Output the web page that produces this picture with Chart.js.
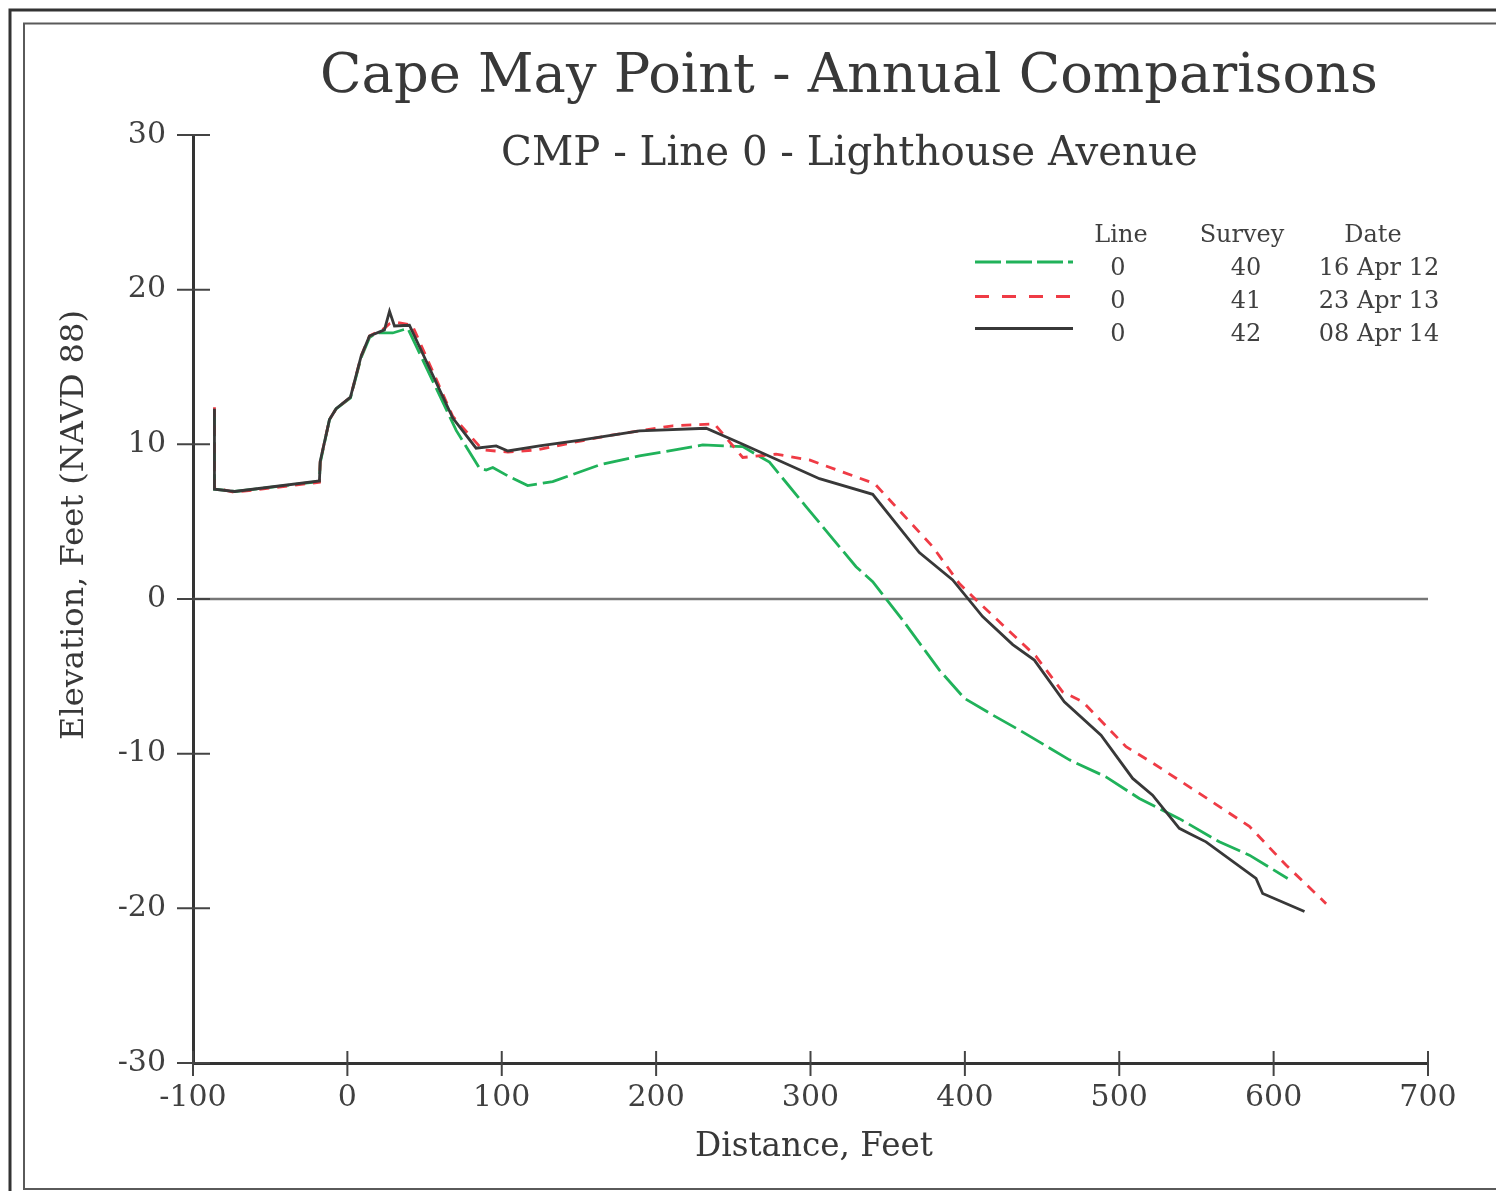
<!DOCTYPE html>
<html>
<head>
<meta charset="utf-8">
<title>Cape May Point - Annual Comparisons</title>
<script src="https://cdn.jsdelivr.net/npm/chart.js@4.4.1/dist/chart.umd.min.js"></script>
<style>
  body { margin: 0; background: #fff; }
  #wrap { width: 1496px; height: 1191px; position: relative; }
</style>
</head>
<body>
<div id="wrap"><canvas id="profileChart"></canvas></div>
<script>
// profile data (distance ft, elevation ft NAVD 88)
const survey40Dist = [-86.1, -86.1, -73, -18.1, -17.6, -11.6, -7.3, 2.0, 8.9, 14.3, 18.6, 29.4, 39.1, 70.5, 85.6, 89.9, 94.2, 105, 116.8, 133, 163.3, 189.2, 230.2, 256.1, 273.4, 297.1, 329.5, 340.3, 359.7, 383.5, 399.7, 418, 435.3, 467.7, 491.4, 513, 538.9, 564.8, 584.3, 609.1];
const survey40Elev = [12.2, 7.1, 6.95, 7.6, 8.8, 11.6, 12.3, 13.0, 15.6, 16.9, 17.2, 17.2, 17.5, 10.9, 8.45, 8.34, 8.5, 7.9, 7.33, 7.59, 8.67, 9.25, 9.96, 9.85, 8.85, 5.97, 2.09, 1.12, -1.36, -4.6, -6.42, -7.5, -8.47, -10.4, -11.5, -12.9, -14.2, -15.7, -16.56, -18.07];

const survey41Dist = [-86.1, -86.1, -73, -18.1, -17.6, -11.6, -7.3, 2.0, 8.9, 14.3, 24.0, 27.3, 31.6, 42, 68.3, 87.7, 104, 122.3, 167.7, 210.8, 237.8, 256.1, 277.7, 299.3, 341.5, 379.2, 396.4, 407.3, 446, 463.3, 476.3, 504.4, 521.6, 551.9, 584.3, 608, 634];
const survey41Elev = [12.4, 7.2, 6.9, 7.55, 8.9, 11.6, 12.3, 13.05, 15.7, 17.0, 17.5, 17.8, 17.9, 17.7, 11.8, 9.64, 9.5, 9.64, 10.54, 11.2, 11.32, 9.15, 9.36, 8.99, 7.46, 3.38, 1.0, -0.06, -3.7, -6.0, -6.64, -9.55, -10.6, -12.57, -14.7, -17.2, -19.7];

const survey42Dist = [-86.1, -86.1, -73, -18.1, -17.6, -11.6, -7.3, 2.0, 8.9, 14.3, 24.0, 27.3, 30.5, 40.2, 68.3, 83.4, 96.4, 104, 124.4, 150, 189.2, 232.4, 256.1, 305.8, 340.3, 370.5, 392.1, 411.5, 431, 445, 464.4, 488.2, 508.7, 521.6, 538.9, 545.4, 556.2, 588.6, 592.9, 620];
const survey42Elev = [12.3, 7.1, 6.95, 7.63, 8.9, 11.6, 12.3, 13.05, 15.7, 17.0, 17.4, 18.6, 17.65, 17.7, 11.7, 9.75, 9.9, 9.57, 9.9, 10.25, 10.87, 11.04, 10.0, 7.78, 6.77, 3.0, 1.23, -1.14, -2.95, -3.95, -6.64, -8.8, -11.6, -12.68, -14.83, -15.16, -15.7, -18.07, -19.04, -20.2];

// legend table
const legendLine = ["0", "0", "0"];
const legendSurvey = ["40", "41", "42"];
const legendDate = ["16 Apr 12", "23 Apr 13", "08 Apr 14"];

const SERIF = "'DejaVu Serif', serif";
const TEXT = "#404040";

function toPoints(xs, ys) {
  return xs.map((x, i) => ({ x: x, y: ys[i] }));
}

// font size that makes text fill a given width
function fitFont(ctx, text, width) {
  ctx.font = "100px " + SERIF;
  return 100 * width / ctx.measureText(text).width;
}

const framePlugin = {
  id: "frame",
  beforeDraw(chart) {
    const ctx = chart.ctx;
    ctx.save();
    ctx.fillStyle = "#fff";
    ctx.fillRect(0, 0, chart.width, chart.height);
    ctx.strokeStyle = "#333";
    ctx.lineWidth = 3;
    ctx.strokeRect(10, 10, chart.width + 20, chart.height + 20);
    ctx.strokeStyle = "#5a5a5a";
    ctx.lineWidth = 2;
    ctx.strokeRect(24, 23.5, chart.width + 20, 1189 - 23.5);
    ctx.restore();
  },
  beforeDatasetsDraw(chart) {
    // zero line
    const ctx = chart.ctx;
    const y0 = chart.scales.y.getPixelForValue(0);
    ctx.save();
    ctx.strokeStyle = "#777";
    ctx.lineWidth = 2.5;
    ctx.beginPath();
    ctx.moveTo(chart.chartArea.left, y0);
    ctx.lineTo(chart.chartArea.right, y0);
    ctx.stroke();
    ctx.restore();
  },
  afterDraw(chart) {
    const ctx = chart.ctx;
    const xs = chart.scales.x, ys = chart.scales.y;
    const area = chart.chartArea;
    ctx.save();
    // tick marks crossing the axes
    ctx.strokeStyle = "#444";
    ctx.lineWidth = 2;
    ys.ticks.forEach(t => {
      const py = ys.getPixelForValue(t.value);
      ctx.beginPath();
      ctx.moveTo(area.left - 16, py);
      ctx.lineTo(area.left + 17, py);
      ctx.stroke();
    });
    xs.ticks.forEach(t => {
      const px = xs.getPixelForValue(t.value);
      ctx.beginPath();
      ctx.moveTo(px, area.bottom - 12);
      ctx.lineTo(px, area.bottom + 13);
      ctx.stroke();
    });

    // titles
    ctx.fillStyle = "#383838";
    ctx.textAlign = "center";
    ctx.textBaseline = "alphabetic";
    let t = "Cape May Point - Annual Comparisons";
    ctx.font = fitFont(ctx, t, 1058) + "px " + SERIF;
    ctx.fillText(t, 849, 92);
    t = "CMP - Line 0 - Lighthouse Avenue";
    ctx.font = fitFont(ctx, t, 697) + "px " + SERIF;
    ctx.fillText(t, 849.5, 165);

    // axis titles
    t = "Distance, Feet";
    ctx.font = fitFont(ctx, t, 238) + "px " + SERIF;
    ctx.fillText(t, 814, 1156);
    t = "Elevation, Feet (NAVD 88)";
    ctx.save();
    ctx.translate(83, 525);
    ctx.rotate(-Math.PI / 2);
    ctx.font = fitFont(ctx, t, 430) + "px " + SERIF;
    ctx.fillText(t, 0, 0);
    ctx.restore();

    // legend table
    ctx.fillStyle = TEXT;
    ctx.font = "24px " + SERIF;
    ctx.fillText("Line", 1121, 242);
    ctx.fillText("Survey", 1242, 242);
    ctx.fillText("Date", 1373, 242);
    const rowY = [275, 308, 341];
    const sampleY = [262, 296.5, 328.5];
    chart.data.datasets.forEach((ds, i) => {
      ctx.save();
      ctx.strokeStyle = ds.borderColor;
      ctx.lineWidth = ds.borderWidth;
      ctx.setLineDash(ds.legendDash || []);
      ctx.beginPath();
      ctx.moveTo(975, sampleY[i]);
      ctx.lineTo(1073, sampleY[i]);
      ctx.stroke();
      ctx.restore();
      ctx.fillText(legendLine[i], 1118, rowY[i]);
      ctx.fillText(legendSurvey[i], 1246, rowY[i]);
      ctx.fillText(legendDate[i], 1379, rowY[i]);
    });
    ctx.restore();
  }
};

const ctx = document.getElementById("profileChart").getContext("2d");
const profileChart = new Chart(ctx, {
  type: "line",
  data: {
    datasets: [
      {
        label: "Survey 40",
        data: toPoints(survey40Dist, survey40Elev),
        borderColor: "#20b25a",
        borderWidth: 2.8,
        borderDash: [26, 6],
        legendDash: [26, 5],
        order: 3,
      },
      {
        label: "Survey 41",
        data: toPoints(survey41Dist, survey41Elev),
        borderColor: "#ef3b45",
        borderWidth: 2.8,
        borderDash: [10, 8],
        legendDash: [14, 13],
        order: 2,
      },
      {
        label: "Survey 42",
        data: toPoints(survey42Dist, survey42Elev),
        borderColor: "#383838",
        borderWidth: 2.8,
        order: 1,
      },
    ],
  },
  options: {
    responsive: true,
    maintainAspectRatio: false,
    devicePixelRatio: 1,
    animation: false,
    parsing: false,
    elements: {
      point: { radius: 0 },
      line: { tension: 0, borderCapStyle: "butt", borderJoinStyle: "miter" },
    },
    layout: {
      padding: { left: 0, top: 135, right: 68, bottom: 0 },
    },
    plugins: {
      legend: { display: false },
      tooltip: { enabled: false },
      title: { display: false },
    },
    scales: {
      x: {
        type: "linear",
        min: -100,
        max: 700,
        ticks: {
          stepSize: 100,
          padding: 9,
          color: TEXT,
          font: { family: SERIF, size: 30 },
          maxRotation: 0,
        },
        grid: { display: false },
        border: { color: "#333", width: 3 },
        afterFit(scale) { scale.height = 128; },
      },
      y: {
        type: "linear",
        min: -30,
        max: 30,
        ticks: {
          stepSize: 10,
          padding: 19,
          color: TEXT,
          font: { family: SERIF, size: 30 },
        },
        grid: { display: false },
        border: { color: "#333", width: 3 },
        afterFit(scale) { scale.width = 193; },
      },
    },
  },
  plugins: [framePlugin],
});
</script>
</body>
</html>
